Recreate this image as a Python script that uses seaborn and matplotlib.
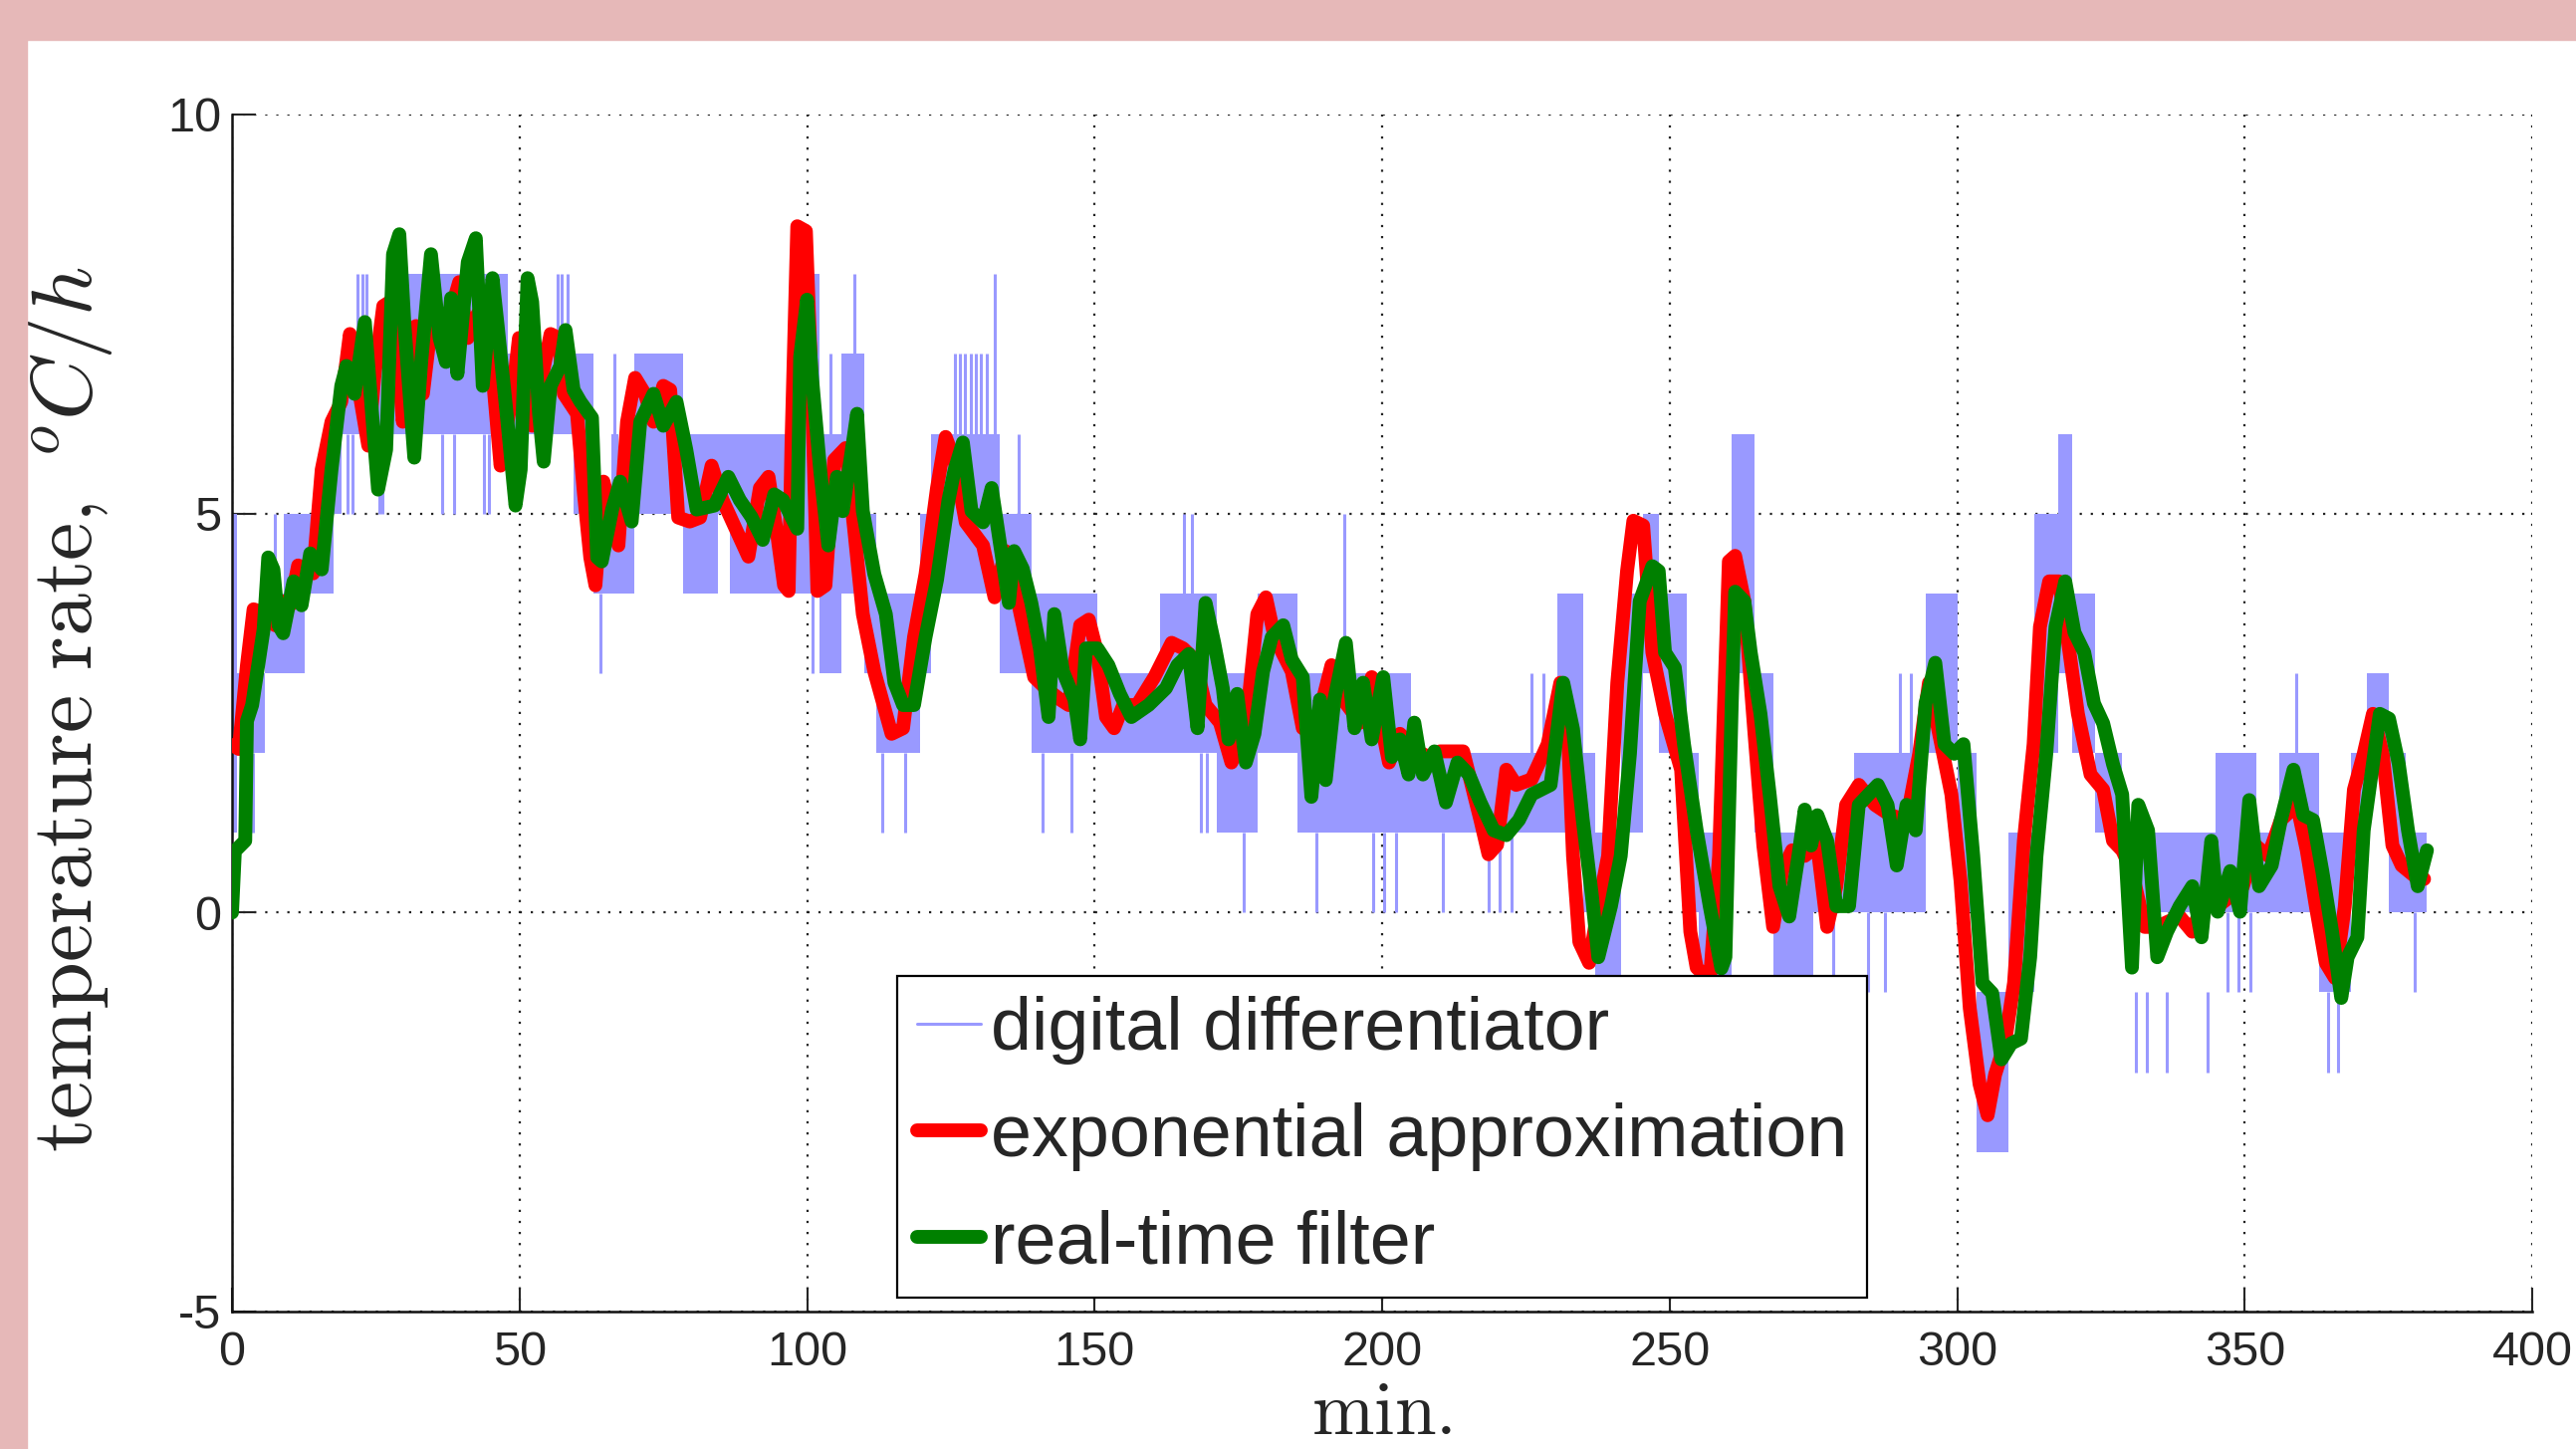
import matplotlib
matplotlib.use("Agg")
import matplotlib.pyplot as plt
import seaborn as sns
import pandas as pd
from matplotlib import font_manager
from matplotlib.lines import Line2D
from matplotlib.patches import Rectangle

# exponential approximation (red)
red_t = [0.0, 1.2, 2.6, 3.75, 5.8, 7.5, 8.7, 10.1, 11.5, 14.1, 15.6, 17.3, 19.0, 20.5, 21.6,
         23.7, 24.8, 26.3, 27.4, 28.9, 29.7, 31.2, 32.0, 33.2, 34.6, 35.8, 36.9, 39.5, 41.0,
         42.7, 45.0, 46.7, 47.9, 48.8, 49.9, 50.8, 52.2, 54.0, 55.4, 56.8, 57.7, 60.0, 61.2,
         62.3, 63.2, 64.6, 65.8, 67.2, 68.7, 70.1, 71.8, 73.3, 75.0, 76.2, 77.6, 79.6, 81.4,
         83.4, 85.3, 89.8, 91.8, 93.3, 94.8, 96.0, 96.8, 97.3, 98.3, 99.8, 100.8, 101.8, 103.2,
         104.7, 106.7, 108.2, 109.7, 111.7, 114.7, 116.7, 118.6, 120.6, 122.6, 124.1, 125.6,
         127.6, 130.6, 132.6, 134.5, 136.5, 139.5, 141.5, 144.0, 145.5, 147.5, 149.0, 150.5,
         152.0, 153.4, 155.0, 157.4, 160.4, 163.4, 165.4, 167.4, 169.3, 171.8, 173.8, 176.3,
         178.3, 179.8, 181.3, 184.3, 186.2, 188.2, 191.2, 193.2, 196.2, 198.2, 201.2, 203.1,
         206.1, 208.1, 210.1, 214.1, 217.1, 218.5, 220.0, 221.6, 223.3, 226.0, 228.8, 231.0,
         232.1, 233.2, 234.3, 236.0, 237.6, 239.3, 240.9, 242.6, 243.7, 245.4, 247.0, 249.2,
         252.0, 253.6, 254.7, 257.0, 258.6, 260.3, 261.4, 263.0, 264.7, 266.3, 268.0, 269.6,
         271.3, 273.5, 275.7, 277.4, 279.0, 280.7, 282.9, 285.7, 288.4, 291.2, 293.4, 295.1,
         296.7, 299.0, 300.6, 302.2, 303.9, 305.3, 306.6, 308.3, 309.9, 311.6, 313.3, 314.4,
         316.0, 317.7, 319.3, 321.0, 323.2, 325.4, 327.1, 328.7, 330.4, 332.6, 334.8, 336.5,
         338.7, 340.9, 343.1, 345.3, 347.5, 349.7, 351.9, 354.1, 356.3, 359.1, 360.8, 362.4,
         364.1, 365.7, 367.4, 369.0, 370.7, 372.3, 374.0, 375.7, 377.3, 379.5, 381.2]
red_v = [2.1, 2.05, 3.1, 3.8, 3.75, 3.6, 3.9, 3.85, 4.35, 4.25, 5.55, 6.15, 6.4, 7.25, 6.75,
         5.85, 6.75, 7.6, 7.65, 6.9, 6.15, 7.1, 7.35, 6.5, 7.35, 7.2, 7.25, 7.9, 7.2,
         7.5, 7.0, 5.6, 6.15, 6.5, 7.2, 6.6, 6.1, 6.75, 7.25, 7.2, 6.5, 6.25, 5.25,
         4.45, 4.1, 5.4, 5.05, 4.6, 6.15, 6.7, 6.5, 6.15, 6.6, 6.55, 4.95, 4.9, 4.95,
         5.6, 5.17, 4.46, 5.32, 5.46, 4.74, 4.1, 4.03, 5.9, 8.6, 8.54, 6.6, 4.03, 4.1,
         5.67, 5.82, 4.8, 3.74, 3.02, 2.24, 2.31, 3.45, 4.24, 5.32, 5.96, 5.67,
         4.89, 4.6, 3.95, 4.53, 3.95, 2.95, 2.81, 2.67, 2.6, 3.6, 3.67, 3.24,
         2.45, 2.31, 2.6, 2.6, 2.95, 3.38, 3.31, 3.17, 2.6, 2.38, 1.88, 2.31,
         3.74, 3.95, 3.45, 3.02, 2.31, 2.24, 3.1, 2.67, 2.38, 2.95, 1.88, 2.24,
         2.02, 1.95, 2.02, 2.02, 1.16, 0.73, 0.85, 1.79, 1.6, 1.67, 2.11, 2.88,
         2.62, 0.71, -0.37, -0.63, 0.07, 0.71, 2.88, 4.28, 4.91, 4.85, 3.26, 2.49,
         1.79, -0.24, -0.69, -0.85, 0.71, 4.4, 4.47, 3.9, 2.3, 0.84, -0.18, 0.52,
         0.78, 0.71, 0.84, -0.18, 0.33, 1.35, 1.6, 1.35, 1.22, 1.16, 1.99, 2.88,
         2.3, 1.48, 0.39, -1.2, -2.15, -2.54, -2.03, -1.64, -0.88, 0.9, 2.11, 3.58,
         4.15, 4.15, 3.39, 2.49, 1.73, 1.54, 0.9, 0.78, 0.52, -0.18, -0.18, -0.12,
         -0.05, -0.24, 0.2, 0.08, 0.2, 0.33, 0.84, 0.71, 1.16, 1.35, 0.78, 0.07,
         -0.63, -0.82, 0.07, 1.54, 1.99, 2.49, 1.99, 0.84, 0.59, 0.46, 0.42]

# real-time filter (green)
green_t = [0.0, 0.5, 2.3, 2.6, 3.5, 5.5, 6.3, 7.2, 8.1, 8.9, 10.7, 12.1, 13.6, 15.6, 17.3,
           19.0, 19.9, 21.3, 23.1, 25.4, 26.8, 28.0, 29.1, 30.0, 31.7, 32.9, 34.6, 36.1, 37.2,
           38.1, 39.2, 41.0, 42.4, 43.6, 45.3, 46.2, 47.9, 49.3, 50.2, 51.4, 52.2, 53.4, 54.2,
           55.4, 57.1, 58.0, 59.4, 60.6, 62.6, 63.5, 64.3, 66.1, 67.5, 69.5, 71.0, 73.3, 75.0,
           77.3, 79.0, 80.8, 83.9, 86.3, 88.3, 90.3, 92.3, 94.3, 95.8, 98.3, 98.8, 100.0, 100.8,
           102.3, 103.7, 105.2, 106.2, 107.7, 108.7, 109.7, 111.7, 113.7, 115.2, 116.7, 118.6,
           120.6, 122.6, 124.6, 125.6, 127.1, 128.6, 130.6, 132.1, 133.6, 135.1, 136.0, 137.5,
           139.0, 140.5, 142.0, 143.0, 144.5, 146.5, 147.5, 148.5, 150.5, 152.4, 154.4, 156.4,
           159.4, 162.4, 164.4, 166.4, 167.9, 169.3, 170.8, 172.3, 173.3, 174.8, 176.3, 177.8,
           179.3, 180.8, 182.8, 184.3, 186.2, 187.7, 189.2, 190.2, 191.7, 193.7, 195.2, 196.7,
           198.2, 200.2, 201.7, 203.1, 204.6, 205.6, 207.1, 209.1, 211.1, 213.1, 215.1, 217.1,
           219.4, 221.6, 223.8, 226.0, 229.3, 231.5, 233.2, 234.9, 236.5, 237.6, 239.8, 241.5,
           243.1, 244.8, 247.0, 248.1, 249.2, 250.9, 252.5, 254.7, 257.0, 259.0, 259.7, 260.8,
           261.4, 263.0, 264.1, 265.8, 267.4, 269.1, 270.8, 272.4, 273.5, 274.6, 275.7, 277.4,
           279.0, 281.2, 282.9, 284.6, 286.2, 287.9, 289.5, 291.2, 292.8, 294.5, 296.2, 297.8,
           299.5, 301.1, 302.8, 304.4, 306.1, 307.7, 309.4, 311.1, 312.7, 313.8, 315.5, 317.1,
           318.8, 320.4, 322.1, 323.8, 325.4, 327.1, 328.7, 330.4, 331.5, 333.2, 334.8, 336.5,
           338.7, 340.9, 342.5, 344.2, 345.3, 347.5, 349.2, 350.8, 352.5, 354.7, 356.3, 358.5,
           360.2, 361.9, 363.5, 365.2, 366.8, 367.9, 369.6, 370.7, 372.3, 373.5, 375.1, 376.8,
           378.4, 380.1, 381.7]
green_v = [0.0, 0.77, 0.9, 2.4, 2.6, 3.55, 4.45, 4.3, 3.6, 3.5, 4.15, 3.85, 4.5, 4.3, 5.55,
           6.6, 6.85, 6.5, 7.4, 5.3, 5.8, 8.25, 8.5, 7.35, 5.7, 6.9, 8.25, 7.2, 6.9,
           7.7, 6.75, 8.15, 8.45, 6.6, 7.95, 7.35, 6.15, 5.1, 5.55, 7.95, 7.65, 6.25, 5.65,
           6.6, 6.85, 7.3, 6.55, 6.4, 6.2, 4.45, 4.4, 5.05, 5.4, 4.9, 6.15, 6.5, 6.1,
           6.4, 5.8, 5.05, 5.1, 5.46, 5.17, 4.96, 4.67, 5.24, 5.17, 4.81, 6.96, 7.68, 6.75,
           5.53, 4.6, 5.46, 5.03, 5.75, 6.25, 5.03, 4.24, 3.74, 2.88, 2.6, 2.6,
           3.45, 4.17, 5.17, 5.53, 5.89, 5.03, 4.89, 5.32, 4.6, 3.88, 4.53, 4.31,
           3.88, 3.31, 2.45, 3.74, 3.02, 2.67, 2.17, 3.31, 3.31, 3.1, 2.74, 2.45,
           2.6, 2.81, 3.1, 3.24, 2.31, 3.88, 3.38, 2.81, 2.17, 2.74, 1.88, 2.24,
           3.02, 3.45, 3.6, 3.17, 2.95, 1.45, 2.67, 1.66, 2.67, 3.38, 2.31, 2.88,
           2.17, 2.95, 1.95, 2.17, 1.73, 2.38, 1.73, 2.02, 1.38, 1.88, 1.73, 1.38,
           1.03, 0.97, 1.16, 1.48, 1.6, 2.88, 2.3, 1.16, 0.2, -0.56, 0.08, 0.71,
           1.99, 3.9, 4.34, 4.28, 3.26, 3.07, 2.11, 1.03, 0.07, -0.7, -0.56, 2.62,
           4.02, 3.9, 3.26, 2.49, 1.48, 0.33, -0.05, 0.71, 1.29, 0.84, 1.22, 0.9,
           0.08, 0.08, 1.35, 1.48, 1.6, 1.35, 0.59, 1.35, 1.03, 2.62, 3.13, 2.11,
           1.99, 2.11, 0.71, -0.88, -1.01, -1.84, -1.64, -1.58, -0.56, 0.71, 1.99, 3.58,
           4.15, 3.51, 3.26, 2.62, 2.37, 1.86, 1.48, -0.69, 1.35, 1.03, -0.56, -0.24,
           0.08, 0.33, -0.31, 0.9, 0.01, 0.52, 0.01, 1.41, 0.33, 0.59, 1.16, 1.79,
           1.22, 1.16, 0.52, -0.24, -1.07, -0.56, -0.31, 1.03, 1.86, 2.49, 2.43, 1.86,
           1.03, 0.33, 0.78]

# digital differentiator (blue): integer levels it flickers between, per time stretch
dd_start = [0.0, 0.9, 5.8, 9.0, 12.7, 17.6, 19.0, 27.7, 47.9, 59.4, 62.9, 66.0, 67.2, 70.0,
            78.5, 84.5, 86.6, 99.3, 102.2, 106.0, 110.0, 112.0, 119.6, 121.6, 125.0, 133.5,
            139.0, 150.5, 161.4, 171.3, 178.3, 185.3, 205.0, 230.4, 234.9, 237.0, 241.5,
            245.4, 248.1, 253.0, 255.0, 260.8, 264.7, 268.0, 275.0, 282.0, 294.5, 300.0,
            303.3, 308.9, 313.5, 317.5, 320.0, 324.0, 328.7, 345.0, 352.0, 356.0, 363.0,
            368.5, 371.2, 375.0, 378.0]
dd_lo = [1, 2, 3, 3, 4, 5, 6, 6, 6, 5, 4, 4, 4, 5,
         4, 5, 4, 4, 3, 4, 3, 2, 3, 4, 4, 3,
         2, 2, 2, 1, 2, 1, 1, 1, 0, -1, 1,
         3, 2, 0, -1, 3, 1, -1, 0, 0, 2, 0,
         -3, -1, 2, 3, 2, 1, 0, 0, 0, 0, -1,
         1, 2, 0, 0]
dd_hi = [5, 3, 4, 5, 5, 6, 7, 8, 7, 7, 5, 6, 5, 7,
         6, 6, 6, 8, 6, 7, 5, 4, 5, 6, 6, 5,
         4, 3, 4, 3, 4, 3, 2, 4, 2, 1, 4,
         5, 4, 2, 1, 6, 3, 1, 1, 2, 4, 2,
         -1, 1, 5, 6, 4, 2, 1, 2, 1, 2, 1,
         2, 3, 2, 1]
dd_end = 381.6
# single samples that jump outside the band
spike_t = [1.5, 3.7, 7.5, 20.0, 21.0, 21.8, 22.6, 23.4, 25.6, 26.2, 36.5, 38.6, 43.8, 44.6,
           56.6, 57.4, 58.4, 64.0, 66.5, 101.0, 104.0, 108.2, 113.0, 117.0, 125.8, 126.6,
           127.4, 128.4, 129.4, 130.2, 131.2, 132.6, 136.8,
           141.0, 146.0, 165.5, 167.0, 168.5, 169.5, 176.0, 188.5, 193.4, 198.5, 200.3,
           202.5, 210.5, 218.5, 220.5, 222.5, 226.0, 228.0, 278.5, 284.5, 287.5, 290.0,
           292.0, 331.0, 333.0, 336.5, 343.5, 347.0, 349.0, 351.0, 359.0, 364.5, 366.2, 379.5]
spike_lo = [1, 1, 4, 5, 5, 7, 7, 7, 5, 5, 5, 5, 5, 5,
            7, 7, 7, 3, 6, 3, 6, 7, 1, 1, 6, 6,
            6, 6, 6, 6, 6, 6, 5,
            1, 1, 4, 4, 1, 1, 0, 0, 3, 0, 0,
            0, 0, 0, 0, 0, 2, 2, -1, -1, -1, 2,
            2, -2, -2, -2, -2, -1, -1, -1, 2, -2, -2, -1]
spike_hi = [2, 2, 5, 6, 6, 8, 8, 8, 6, 6, 6, 6, 6, 6,
            8, 8, 8, 4, 7, 4, 7, 8, 2, 2, 7, 7,
            7, 7, 7, 7, 7, 8, 6,
            2, 2, 5, 5, 2, 2, 1, 1, 5, 1, 1,
            1, 1, 1, 1, 1, 3, 3, 0, 0, 0, 3,
            3, -1, -1, -1, -1, 0, 0, 0, 3, -1, -1, 0]

x_ticks = [0, 50, 100, 150, 200, 250, 300, 350, 400]
y_ticks = [-5, 0, 5, 10]
labels = ["digital differentiator", "exponential approximation", "real-time filter"]

BLUE = "#9999FF"
RED = "#FF0000"
GREEN = "#008000"
PINK = "#E6B8B8"
LW = 10

sns.set_style("ticks")
names = {f.name for f in font_manager.fontManager.ttflist}
if "Liberation Sans Narrow" in names:
    sans = ["Liberation Sans Narrow", "Liberation Sans", "DejaVu Sans"]
    tick_fs, leg_fs = 40, 59
else:
    sans = ["Liberation Sans", "DejaVu Sans"]
    tick_fs, leg_fs = 35, 53
plt.rcParams["font.family"] = sans
plt.rcParams["mathtext.fontset"] = "cm"
plt.rcParams["axes.unicode_minus"] = False

red_df = pd.DataFrame({"t": red_t, "v": red_v})
green_df = pd.DataFrame({"t": green_t, "v": green_v})

fig = plt.figure(figsize=(25.87, 14.55), dpi=100)
fig.patch.set_facecolor("white")
ax = fig.add_axes([233 / 2587, 1 - 1317 / 1455, 2310 / 2587, 1202 / 1455])

# blue band and spikes
ax.fill_between(dd_start + [dd_end], dd_lo + [dd_lo[-1]], dd_hi + [dd_hi[-1]],
                step="post", color=BLUE, linewidth=0, zorder=2)
ax.vlines(spike_t, spike_lo, spike_hi, color=BLUE, linewidth=2.2, zorder=2)

sns.lineplot(data=red_df, x="t", y="v", color=RED, linewidth=LW, ax=ax,
             estimator=None, sort=False, zorder=3)
sns.lineplot(data=green_df, x="t", y="v", color=GREEN, linewidth=LW, ax=ax,
             estimator=None, sort=False, zorder=4)

ax.set_xlim(0, 400)
ax.set_ylim(-5, 10)
ax.set_xticks(x_ticks)
ax.set_yticks(y_ticks)
ax.tick_params(direction="in", length=17, width=1.5, top=False, right=False,
               labelsize=tick_fs)
ax.tick_params(axis="x", pad=14)
ax.tick_params(axis="y", pad=8)
ax.grid(True, linestyle=(0, (1, 4)), color="#222222", linewidth=1.6)
ax.set_axisbelow(True)
for side in ["top", "right"]:
    ax.spines[side].set_visible(False)
for side in ["left", "bottom"]:
    ax.spines[side].set_linewidth(1.8)
    ax.spines[side].set_color("#111111")

ax.set_xlabel(r"$\mathrm{min.}$", fontsize=54, va="top")
ax.xaxis.set_label_coords(0.5, -0.057)
ax.set_ylabel(r"$\mathrm{temperature\ rate,}\ {}^{o}C/h$", fontsize=62, va="center")
ax.yaxis.set_label_coords(-0.0705, 0.503)

handles = [Line2D([], [], color=BLUE, linewidth=2.2),
           Line2D([], [], color=RED, linewidth=LW),
           Line2D([], [], color=GREEN, linewidth=LW)]
leg = ax.legend(handles, labels, loc="lower center", bbox_to_anchor=(0.5, 0.0116),
                borderaxespad=0, prop={"family": sans, "size": leg_fs},
                handlelength=0.87, handletextpad=0.14, labelspacing=0.52,
                borderpad=0.27, fancybox=False, framealpha=1, edgecolor="black")
leg.get_frame().set_linewidth(1.6)
leg.set_zorder(10)

# pink frame of the screenshot
fig.add_artist(Rectangle((0, 1 - 40 / 1455), 1, 40 / 1455, transform=fig.transFigure,
                         color=PINK, zorder=20))
fig.add_artist(Rectangle((0, 0), 27 / 2587, 1, transform=fig.transFigure,
                         color=PINK, zorder=20))

fig.savefig("out.png", dpi=100, facecolor="white")
